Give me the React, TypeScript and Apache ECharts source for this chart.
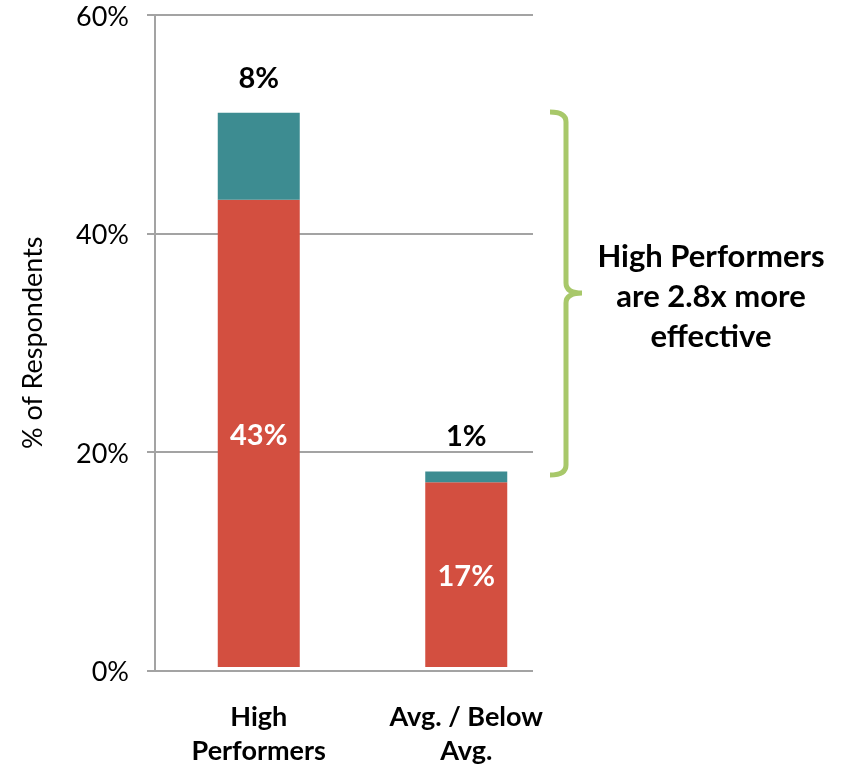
import React, { useEffect, useRef } from "react";
import * as echarts from "echarts";

const categories = ["High\nPerformers", "Avg. / Below\nAvg."];
const baseValues = [43, 17];
const topValues = [8, 1];
const yTicks = [0, 20, 40, 60];
const calloutText = "High Performers\nare 2.8x more\neffective";

const FONT = "Lato";
const RED = "#D34F40";
const TEAL = "#3D8C91";
const GRID = "#A3A3A3";
const GREEN = "#A8C86A";

let registered = false;
function registerBrace() {
  if (registered) return;
  registered = true;
  const d =
    "M550,112 Q566,112 566,122 L566,283 Q566,293 582,293 Q566,293 566,303 L566,465 Q566,475 550,475";
  echarts.graphic.registerShape("brace", echarts.graphic.extendPath(d, {}) as any);
}

export default function App() {
  const ref = useRef<HTMLDivElement>(null);
  useEffect(() => {
    if (!ref.current) return;
    registerBrace();
    const chart = echarts.init(ref.current, null, { renderer: "svg" });
    chart.setOption({
      animation: false,
      textStyle: { fontFamily: FONT },
      grid: [
        { left: 155, right: 315, top: 15, bottom: 95.5 },
        { left: 155, right: 278, top: 15, bottom: 95.5 },
      ],
      xAxis: [
        {
          type: "category",
          gridIndex: 0,
          data: categories,
          show: false,
        },
        {
          type: "category",
          gridIndex: 1,
          data: categories,
          axisLine: { show: false },
          axisTick: { show: false },
          axisLabel: {
            color: "#000",
            fontFamily: FONT,
            fontWeight: "bold",
            fontSize: 27,
            lineHeight: 34,
            margin: 31,
          },
        },
      ],
      yAxis: [
        {
          type: "value",
          gridIndex: 0,
          min: yTicks[0],
          max: yTicks[yTicks.length - 1],
          interval: 20,
          name: "% of Respondents",
          nameLocation: "middle",
          nameGap: 110,
          nameTextStyle: { fontFamily: FONT, fontSize: 27, color: "#000" },
          axisLine: { show: true, lineStyle: { color: GRID, width: 2 } },
          axisTick: { show: true, length: 8, lineStyle: { color: GRID, width: 2 } },
          axisLabel: {
            formatter: "{value}%",
            color: "#000",
            fontFamily: FONT,
            fontSize: 27,
            margin: 26,
          },
          splitLine: { show: true, lineStyle: { color: GRID, width: 2 } },
        },
        {
          type: "value",
          gridIndex: 1,
          min: yTicks[0],
          max: yTicks[yTicks.length - 1],
          show: false,
        },
      ],
      series: [
        {
          type: "bar",
          xAxisIndex: 1,
          yAxisIndex: 1,
          stack: "total",
          data: baseValues,
          barWidth: 82,
          itemStyle: { color: RED },
          label: {
            show: true,
            position: "inside",
            formatter: "{c}%",
            color: "#fff",
            fontFamily: FONT,
            fontWeight: "bold",
            fontSize: 29,
          },
        },
        {
          type: "bar",
          xAxisIndex: 1,
          yAxisIndex: 1,
          stack: "total",
          data: topValues,
          barWidth: 82,
          itemStyle: { color: TEAL },
          label: {
            show: true,
            position: "top",
            distance: 22,
            formatter: "{c}%",
            color: "#000",
            fontFamily: FONT,
            fontWeight: "bold",
            fontSize: 29,
          },
        },
      ],
      graphic: [
        {
          type: "brace",
          x: 0,
          y: 0,
          style: { fill: "none", stroke: GREEN, lineWidth: 5 },
        },
        {
          type: "text",
          x: 711,
          y: 295,
          style: {
            text: calloutText,
            fill: "#000",
            font: `bold 31px ${FONT}`,
            align: "center",
            verticalAlign: "middle",
            lineHeight: 40,
          },
        },
      ],
    });
    return () => chart.dispose();
  }, []);
  return (
    <div
      ref={ref}
      style={{ position: "fixed", left: 0, top: 0, width: 848, height: 766 }}
    />
  );
}
